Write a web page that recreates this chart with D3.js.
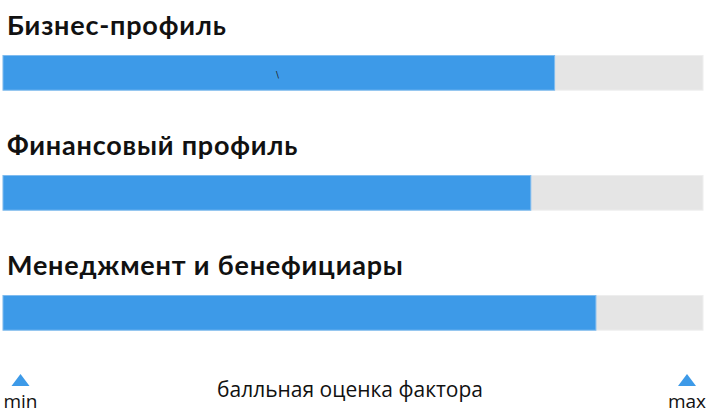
<!DOCTYPE html>
<html>
<head>
<meta charset="utf-8">
<script src="https://cdn.jsdelivr.net/npm/d3@7"></script>
<style>
  body { margin: 0; background: #fff; }
  svg { display: block; }
</style>
</head>
<body>
<script>
const categories = ['Бизнес-профиль', 'Финансовый профиль', 'Менеджмент и бенефициары'];
const scores = [0.788, 0.754, 0.847];
const axisEnds = ['min', 'max'];
const axisTitle = 'балльная оценка фактора';

function main() {
  const width = 706;
  const height = 419;
  const svg = d3.select('body').append('svg')
    .attr('width', width)
    .attr('height', height);

  const x = d3.scaleLinear().domain([0, 1]).range([3, 703]);
  const row = d3.scaleBand().domain(categories).range([0, 360]);
  const barH = 35.7;

  const rows = categories.map((c, i) => ({ name: c, value: scores[i] }));

  const g = svg.append('g')
    .selectAll('.row')
    .data(rows)
    .enter()
    .append('g')
    .attr('transform', d => `translate(0,${row(d.name)})`);

  g.append('text')
    .attr('x', 7)
    .attr('y', 34.5)
    .attr('font-family', 'Lato, "Noto Sans", sans-serif')
    .attr('font-weight', 'bold')
    .attr('font-size', 27)
    .attr('letter-spacing', 0.8)
    .attr('fill', '#111')
    .text(d => d.name);

  g.append('rect')
    .attr('x', x(0))
    .attr('y', 55.5)
    .attr('width', x(1) - x(0))
    .attr('height', barH - 1)
    .attr('fill', '#e5e5e5')
    .attr('stroke', '#eeeeee');

  g.append('rect')
    .attr('x', x(0))
    .attr('y', 55.5)
    .attr('width', d => x(d.value) - x(0))
    .attr('height', barH - 1)
    .attr('fill', '#3d9ae8')
    .attr('stroke', '#7fbcf0');

  // stray mark inside the first bar
  svg.append('text')
    .attr('x', 276)
    .attr('y', 78)
    .attr('font-family', '"DejaVu Sans", sans-serif')
    .attr('font-size', 9)
    .attr('fill', '#222')
    .text('\\');

  const ends = svg.append('g')
    .selectAll('.end')
    .data(axisEnds)
    .enter()
    .append('g')
    .attr('transform', (d, i) => `translate(${i === 0 ? x(0) + 17.5 : x(1) - 16},0)`);

  ends.append('path')
    .attr('d', 'M-9,386L9,386L0,374Z')
    .attr('fill', '#3d9ae8');

  ends.append('text')
    .attr('y', 407.5)
    .attr('text-anchor', 'middle')
    .attr('font-family', '"Open Sans", "Noto Sans", sans-serif')
    .attr('font-size', 19)
    .attr('fill', '#111')
    .text(d => d);

  svg.append('text')
    .attr('x', 350)
    .attr('y', 397)
    .attr('text-anchor', 'middle')
    .attr('font-family', '"Open Sans", "Noto Sans", sans-serif')
    .attr('font-size', 21)
    .attr('fill', '#111')
    .text(axisTitle);
}

main();
</script>
</body>
</html>
